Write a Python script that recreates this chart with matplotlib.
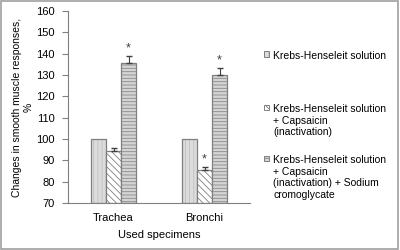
import matplotlib.pyplot as plt
import numpy as np

plt.rcParams['font.family'] = ['Liberation Sans', 'DejaVu Sans']
plt.rcParams['hatch.linewidth'] = 0.6

specimens = ["Trachea", "Bronchi"]
series_names = ["Krebs-Henseleit solution",
                "Krebs-Henseleit solution\n+ Capsaicin\n(inactivation)",
                "Krebs-Henseleit solution\n+ Capsaicin\n(inactivation) + Sodium\ncromoglycate"]
krebs = [100, 100]
capsaicin = [94.5, 85.5]
cromoglycate = [135.5, 130]
capsaicin_err = [1.5, 1.5]
cromoglycate_err = [3.5, 3.5]
star_capsaicin = [False, True]
star_cromoglycate = [True, True]

fig = plt.figure(figsize=(4, 2.5), dpi=100)
ax = fig.add_axes([0.17, 0.188, 0.455, 0.768])

x = np.arange(len(specimens))
w = 0.165
edge = '#7f7f7f'
# (fill, hatch, hatch colour) per series
styles = [('#dcdcdc', '||||', '#c0c0c0'),
          ('white', '\\\\\\\\\\', '#808080'),
          ('#d4d4d4', '-----', '#8a8a8a')]
values = [krebs, capsaicin, cromoglycate]
offsets = [-w, 0, w]

for vals, off, (fc, hatch, hc) in zip(values, offsets, styles):
    h = np.array(vals) - 70
    ax.bar(x + off, h, w, bottom=70, color=fc, edgecolor=hc, linewidth=0, hatch=hatch)
    ax.bar(x + off, h, w, bottom=70, fill=False, edgecolor=edge, linewidth=0.9)

ax.errorbar(x, capsaicin, yerr=[[0, 0], capsaicin_err], fmt='none', ecolor='#404040',
            elinewidth=0.8, capsize=2.5)
ax.errorbar(x + w, cromoglycate, yerr=[[0, 0], cromoglycate_err], fmt='none', ecolor='#404040',
            elinewidth=0.8, capsize=2.5)

for i in range(len(specimens)):
    if star_capsaicin[i]:
        ax.text(x[i], capsaicin[i] + capsaicin_err[i] + 0.5, '*', ha='center', va='bottom',
                fontsize=9, color='#404040')
    if star_cromoglycate[i]:
        ax.text(x[i] + w, cromoglycate[i] + cromoglycate_err[i] + 0.5, '*', ha='center',
                va='bottom', fontsize=9, color='#404040')

ax.set_xlim(-0.5, 1.5)
ax.set_ylim(70, 160)
ax.set_yticks(range(70, 161, 10))
ax.set_xticks(x)
ax.set_xticklabels(specimens)
ax.tick_params(axis='x', labelsize=8, length=0, pad=7)
ax.tick_params(axis='y', labelsize=8, length=4.5, width=0.8, direction='out', pad=5,
               colors='#808080', labelcolor='black')
for s in ['top', 'right']:
    ax.spines[s].set_visible(False)
for s in ['left', 'bottom']:
    ax.spines[s].set_color('#808080')
    ax.spines[s].set_linewidth(0.8)

ax.set_xlabel("Used specimens", fontsize=8, labelpad=5)
ax.set_ylabel("Changes in smooth muscle responses,\n%", fontsize=7.5, labelpad=2)

# legend, handles aligned with the first line of each entry
entry_y = [54, 107, 158]
for name, (fc, hatch, hc), yy in zip(series_names, styles, entry_y):
    fy = 1 - yy / 250
    fig.patches.append(plt.Rectangle((264 / 400, fy - 2.5 / 250), 5 / 400, 5 / 250,
                                     transform=fig.transFigure, facecolor=fc,
                                     edgecolor=hc, hatch=hatch, linewidth=0))
    fig.patches.append(plt.Rectangle((264 / 400, fy - 2.5 / 250), 5 / 400, 5 / 250,
                                     transform=fig.transFigure, fill=False,
                                     edgecolor=edge, linewidth=0.7))
    fig.text(273 / 400, fy + 3 / 250, name, fontsize=7.5, va='top', ha='left',
             linespacing=1.2)

fig.patches.append(plt.Rectangle((0.003, 0.004), 0.992, 0.992, transform=fig.transFigure,
                                 fill=False, edgecolor='#a0a0a0', linewidth=1.2))

fig.savefig('out.png', dpi=100)
